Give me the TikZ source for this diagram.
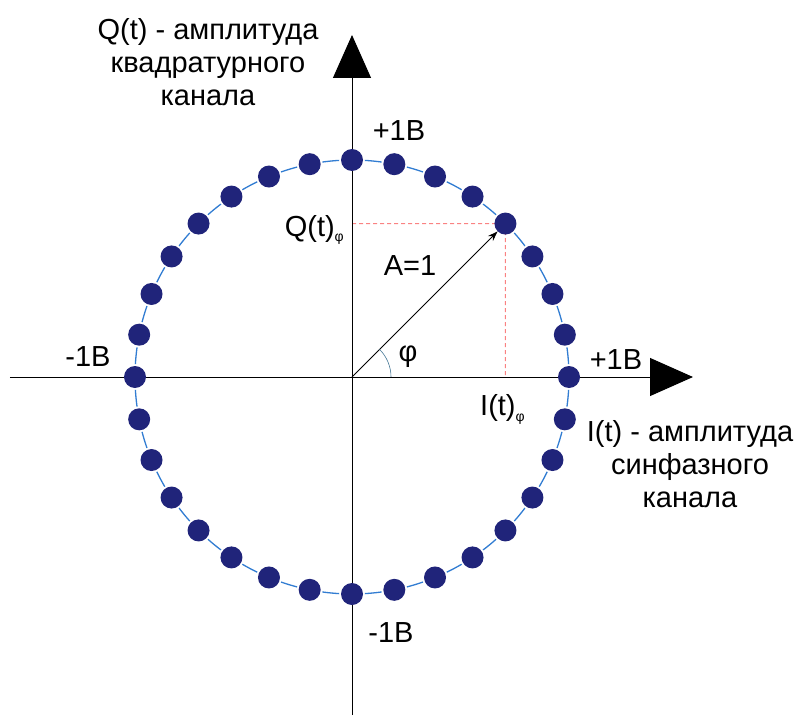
\documentclass[tikz,border=0pt]{standalone}
\usepackage{fontspec}
\setmainfont{Liberation Sans}
\usetikzlibrary{arrows.meta}
\definecolor{dotc}{RGB}{32,36,122}
\definecolor{dashc}{RGB}{50,125,210}
\definecolor{redc}{RGB}{250,130,130}
\definecolor{arcc}{RGB}{70,120,150}
\tikzset{
  dotnode/.style={circle,fill=dotc,draw=none,minimum size=22pt,inner sep=0pt},
  axis/.style={line width=1pt,-{Triangle[length=43pt,width=38pt]}},
  lbl/.style={font=\fontsize{29}{33}\selectfont,inner sep=0pt},
  dashseg/.style={dashc,line width=1.3pt},
  guide/.style={redc,line width=1.1pt,dash pattern=on 4pt off 3pt},
}
\newcommand{\subphi}{\raisebox{-6pt}{\fontsize{14}{14}\selectfont φ}}
\begin{document}
\begin{tikzpicture}[x=1pt,y=1pt]
\useasboundingbox (-352,-338) rectangle (445,377);
\coordinate (O) at (0,0);
\coordinate (xl) at (-342,0);
\coordinate (xr) at (341,0);
\coordinate (yb) at (0,-338);
\coordinate (yt) at (0,342);
% dashed circle segments
\foreach \i in {0,...,31}{
  \draw[dashseg] ({\i*11.25+3.4}:217) arc[start angle={\i*11.25+3.4},end angle={\i*11.25+7.85},radius=217];
}
% guide lines
\coordinate (qy) at (0,153.4);
\coordinate (ix) at (153.4,0);
\coordinate (pt) at (45:217);
\draw[guide] (qy) -- (pt) -- (ix);
% axes
\draw[axis] (xl) -- (xr);
\draw[axis] (yb) -- (yt);
% dots
\foreach \i in {0,...,31}{
  \node[dotnode] (d\i) at (\i*11.25:217) {};
}
% vector
\draw[line width=0.9pt,-{Stealth[length=10pt,width=7pt]}] (O) -- (d4);
% angle arc
\draw[arcc,line width=0.6pt] (39,0) arc[start angle=0,end angle=45,radius=39];
% labels
\node[lbl] (ptop) at (47,246) {+1B};
\node[lbl] (mleft) at (-264,20) {-1B};
\node[lbl] (pright) at (264,17) {+1B};
\node[lbl] (mbot) at (39,-256) {-1B};
\node[lbl,anchor=base east] (qphi) at (-8,141) {Q(t)\subphi};
\node[lbl] (amp) at (58,111) {A=1};
\node[lbl] (phi) at (56,20) {φ};
\node[lbl,anchor=base west] (iphi) at (128,-38) {I(t)\subphi};
\node[lbl,align=center] (qtitle) at (-144,315) {Q(t) - амплитуда\\квадратурного\\канала};
\node[lbl,align=center] (ititle) at (338,-87) {I(t) - амплитуда\\синфазного\\канала};
\end{tikzpicture}
\end{document}
